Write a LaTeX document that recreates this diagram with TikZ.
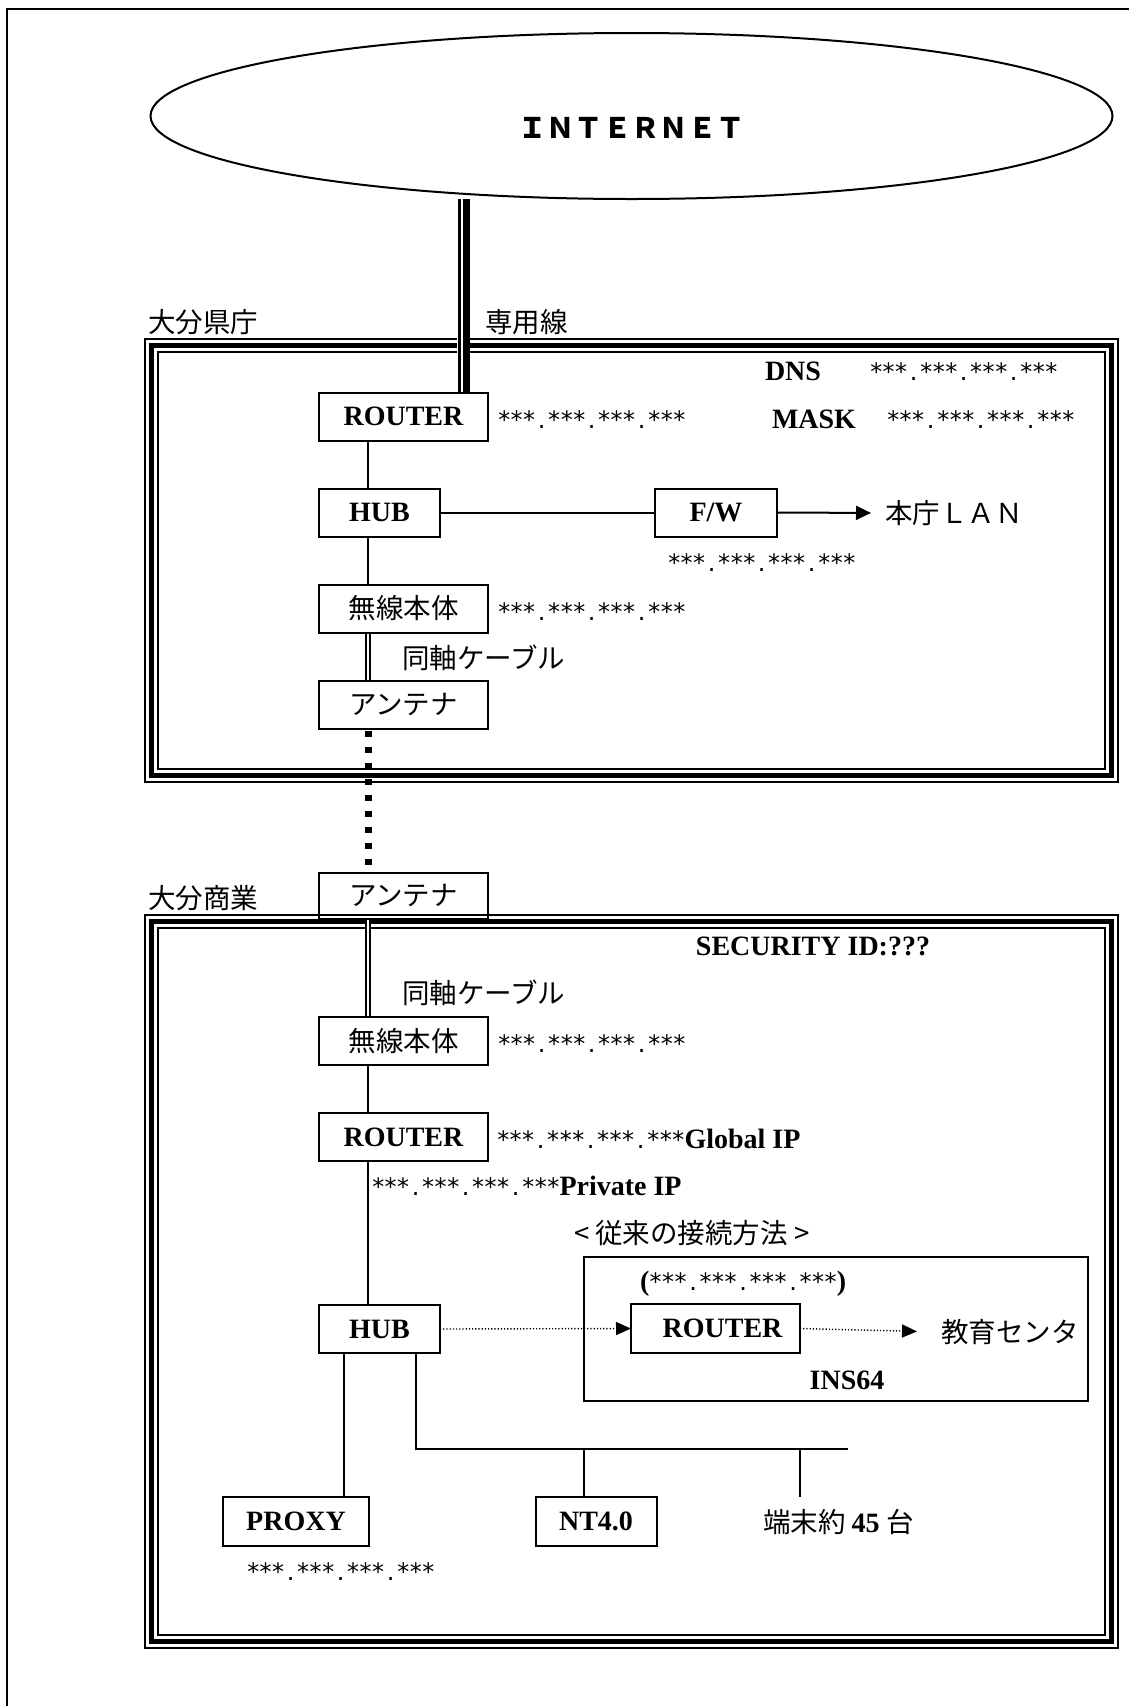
\documentclass[tikz,border=0pt]{standalone}
\usepackage{fontspec}
\setmainfont{Liberation Serif}
\newfontfamily\jpf{Noto Sans CJK JP}
\newfontfamily\ipff{DejaVu Sans}
\usetikzlibrary{arrows.meta,shapes.geometric,calc}
\newcommand\myBold{\rmfamily\bfseries\fontsize{28}{32}\selectfont}
\newcommand\myJP{\jpf\mdseries\fontsize{27.5}{32}\selectfont}
\newcommand\ipfont{\ipff\mdseries\fontsize{24}{28}\selectfont}
\newcommand\ipA{\makebox[12.5pt]{*}}
\newcommand\ipD{\makebox[12.5pt]{.}}
\newcommand\ipG{\ipA\ipA\ipA}
\newcommand\ipaddr{{\ipfont\ipG\ipD\ipG\ipD\ipG\ipD\ipG}}
\begin{document}
\begin{tikzpicture}[x=1pt,y=-1pt,
  every node/.style={inner sep=0pt, outer sep=0pt},
  box/.style={draw, line width=2pt, minimum width=169pt, minimum height=48pt, font=\myBold},
  conn/.style={line width=2pt},
  coax/.style={double, double distance=2.5pt, line width=1.5pt, shorten <=1pt, shorten >=1pt},
  radio/.style={line width=7pt, dash pattern=on 6.5pt off 9.5pt, dash phase=-2pt},
  dotl/.style={line width=1.4pt, dash pattern=on 1.2pt off 2pt},
  tri/.style={-{Triangle[length=15pt,width=13pt]}},
  frame/.style={line width=2pt},
  thickframe/.style={line width=5.5pt}
]
\useasboundingbox (0,0) rectangle (1129,1706);
% page frame
\coordinate (pf0) at (7,1706);
\coordinate (pf1) at (7,9);
\coordinate (pf2) at (1129,9);
\draw[frame] (pf0) -- (pf1) -- (pf2);

% internet cloud
\node[draw, ellipse, line width=2pt, minimum width=962pt, minimum height=166pt,
      font=\jpf\bfseries\fontsize{28.3}{30}\selectfont] (inet) at (631.5,116)
      {\raisebox{-22pt}[0pt][0pt]{ＩＮＴＥＲＮＥＴ}};

% triple borders
\draw[frame] (145,339) rectangle (1118,782);
\draw[thickframe] (151.5,345.5) rectangle (1111.5,775.5);
\draw[frame] (158,352) rectangle (1105,769);

\draw[frame] (145,915) rectangle (1118,1648);
\draw[thickframe] (151.5,921.5) rectangle (1111.5,1641.5);
\draw[frame] (158,928) rectangle (1105,1635);

% boxes
\node[box] (r1) at (403.5,416.5) {ROUTER};
\node[box, minimum width=121pt] (hub1) at (379.5,512.5) {HUB};
\node[box, minimum width=122pt] (fw) at (716,512.5) {F/W};
\node[box, font=\myJP] (mu1) at (403.5,608.5) {無線本体};
\node[box, font=\myJP] (an1) at (403.5,704.5) {アンテナ};
\node[box, font=\myJP, minimum height=46pt] (an2) at (403.5,896) {アンテナ};
\node[box, font=\myJP] (mu2) at (403.5,1041) {無線本体};
\node[box] (r2) at (403.5,1137) {ROUTER};
\node[box, minimum width=121pt] (hub2) at (379.5,1329) {HUB};
\node[draw, line width=2pt, minimum width=504.5pt, minimum height=143.5pt] (ins) at (835.75,1328.75) {};
\node[box, minimum height=49pt] (r3) at (715.5,1328.5) {\hspace*{14pt}ROUTER};
\node[box, minimum width=146pt, minimum height=49pt] (proxy) at (296,1521.5) {PROXY};
\node[box, minimum width=121pt, minimum height=49pt] (nt) at (596,1521.5) {NT4.0};

% texts
\node[anchor=west, font=\myJP] (lbl1) at (148,322.5) {大分県庁};
\node[anchor=west, font=\myJP] (lbl2) at (485,322.5) {専用線};
\node[anchor=base west, font=\myBold] (dns) at (765,380) {DNS};
\node[anchor=base west] (dnsip) at (870,380) {\ipaddr};
\node[anchor=base west, font=\myBold] (mask) at (772,428) {MASK};
\node[anchor=base west] (maskip) at (887,428) {\ipaddr};
\node[anchor=base west] (r1ip) at (498,428) {\ipaddr};
\node[anchor=west, font=\myJP] (lan) at (885,513) {本庁ＬＡＮ};
\node[anchor=base west] (fwip) at (668,571) {\ipaddr};
\node[anchor=base west] (mu1ip) at (498,620) {\ipaddr};
\node[anchor=west, font=\myJP] (coax1) at (402,658) {同軸ケーブル};
\node[anchor=west, font=\myJP] (lbl3) at (148,898) {大分商業};
\node[anchor=base, font=\myBold] (sec) at (813,955) {SECURITY ID:???};
\node[anchor=west, font=\myJP] (coax2) at (402,993) {同軸ケーブル};
\node[anchor=base west] (mu2ip) at (498,1052) {\ipaddr};
\node[anchor=base west] (glob) at (497,1148.5) {\ipaddr\myBold Global IP};
\node[anchor=base west] (priv) at (372,1195) {\ipaddr\myBold Private IP};
\node[anchor=west, font=\myJP] (old) at (574,1233) {< 従来の接続方法 >};
\node[anchor=base west] (r3ip) at (640,1290) {\myBold(\ipaddr)};
\node[anchor=west, font=\myJP] (edu) at (941,1332) {教育センタ};
\node[anchor=base, font=\myBold] (ins64) at (847,1389) {INS64};
\node[anchor=west] (term) at (763,1522) {\myJP 端末約 \myBold 45 \myJP 台};
\node[anchor=base west] (proxyip) at (247,1580) {\ipaddr};

% coordinates for connector lanes
\coordinate (spine) at (368,0);
\coordinate (lmid) at (463,0);
\coordinate (lthin) at (459.5,0);
\coordinate (lthick) at (466.5,0);
\coordinate (px) at (344,0);
\coordinate (bx) at (416,0);
\coordinate (ntx) at (584,0);
\coordinate (busend) at (848,1449);
\coordinate (tend) at (800,1497);

% leased line
\draw[white, line width=12pt, shorten >=2pt] (inet.south -| lmid) -- (r1.north -| lmid);
\draw[line width=2.3pt] (inet.south -| lthin) -- (r1.north -| lthin);
\draw[line width=6.5pt] (inet.south -| lthick) -- (r1.north -| lthick);

% spine
\draw[conn] (r1.south -| spine) -- (hub1.north -| spine);
\draw[conn] (hub1.south -| spine) -- (mu1.north -| spine);
\draw[coax] (mu1.south -| spine) -- (an1.north -| spine);
\draw[radio] (an1.south -| spine) -- (an2.north -| spine);
\draw[coax] (an2.south -| spine) -- (mu2.north -| spine);
\draw[conn] (mu2.south -| spine) -- (r2.north -| spine);
\draw[conn] (r2.south -| spine) -- (hub2.north -| spine);

% box1 right side
\draw[conn] (hub1.east) -- (fw.west);
\draw[conn, -{Triangle[length=15pt,width=14pt]}, shorten >=14pt] (fw.east) -- (lan.west);

% box2
\draw[dotl, tri] (hub2.east) -- (r3.west);
\draw[dotl, tri, shorten >=24pt] (r3.east) -- (edu.west);
\draw[conn] (hub2.south -| px) -- (proxy.north -| px);
\draw[conn] (hub2.south -| bx) |- (busend);
\draw[conn] (busend -| ntx) -- (nt.north -| ntx);
\draw[conn] (busend -| tend) -- (tend);
\end{tikzpicture}
\end{document}
